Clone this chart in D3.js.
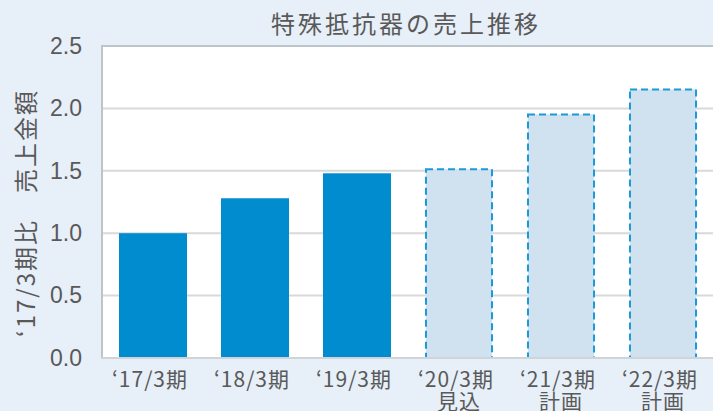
<!DOCTYPE html>
<html>
<head>
<meta charset="utf-8">
<title>特殊抵抗器の売上推移</title>
<script src="https://d3js.org/d3.v7.min.js"></script>
<style>
  body { margin: 0; background: #e7eff8; }
  text { font-family: "Noto Sans CJK JP", "Liberation Sans", sans-serif; fill: #595959; }
</style>
</head>
<body>
<script>
// chart data
const periods = ["‘17/3期", "‘18/3期", "‘19/3期", "‘20/3期", "‘21/3期", "‘22/3期"];
const notes = ["", "", "", "見込", "計画", "計画"];
const ratios = [1.0, 1.28, 1.48, 1.52, 1.96, 2.16];
const isForecast = [false, false, false, true, true, true];
const yTicks = [0, 0.5, 1.0, 1.5, 2.0, 2.5];

const W = 713, H = 411;
const plotL = 102, plotT = 46, plotB = 358, plotR = 714;

const svg = d3.select("body").append("svg")
    .attr("width", W).attr("height", H);

svg.append("rect").attr("width", W).attr("height", H).attr("fill", "#e7eff8");

const x = d3.scaleBand()
    .domain(periods)
    .range([plotL, plotR])
    .paddingInner(1 / 3)
    .paddingOuter(1 / 6);

const y = d3.scaleLinear()
    .domain([0, 2.5])
    .range([plotB, plotT]);

// plot area
svg.append("rect")
    .attr("x", plotL).attr("y", plotT)
    .attr("width", plotR - plotL).attr("height", plotB - plotT)
    .attr("fill", "#fff");

// gridlines
svg.append("g").selectAll("line")
    .data(yTicks.filter(d => d > 0 && d < 2.5))
    .join("line")
    .attr("x1", plotL).attr("x2", plotR)
    .attr("y1", d => y(d)).attr("y2", d => y(d))
    .attr("stroke", "#d9d9d9").attr("stroke-width", 2);

// bars
svg.append("g").selectAll("rect")
    .data(periods)
    .join("rect")
    .attr("x", (d, i) => x(d) + (isForecast[i] ? 1 : 0))
    .attr("width", (d, i) => x.bandwidth() - (isForecast[i] ? 2 : 0))
    .attr("y", (d, i) => y(ratios[i]) + (isForecast[i] ? 1 : 0))
    .attr("height", (d, i) => plotB - y(ratios[i]) - (isForecast[i] ? 1 : 0))
    .attr("fill", (d, i) => isForecast[i] ? "#d0e2f0" : "#008ccf")
    .attr("stroke", (d, i) => isForecast[i] ? "#1a9ad6" : "none")
    .attr("stroke-width", 2)
    .attr("stroke-dasharray", "7,4");

// frame: top, left, bottom
svg.append("path")
    .attr("d", `M${plotR},${plotT}H${plotL}V${plotB}`)
    .attr("fill", "none").attr("stroke", "#bcc5cc").attr("stroke-width", 2);
svg.append("line")
    .attr("x1", plotL - 1).attr("x2", plotR)
    .attr("y1", plotB).attr("y2", plotB)
    .attr("stroke", "#d0d4d8").attr("stroke-width", 2);

// y axis
const yAxis = svg.append("g")
    .attr("transform", `translate(${plotL - 20},0)`)
    .call(d3.axisLeft(y).tickValues(yTicks).tickFormat(d3.format(".1f")).tickSize(0));
yAxis.select(".domain").remove();
yAxis.selectAll("text")
    .attr("x", 0)
    .style("font-family", "'Liberation Sans', sans-serif")
    .style("font-size", "23px")
    .attr("fill", "#595959");

// x axis
const xAxis = svg.append("g")
    .attr("transform", `translate(0,${plotB})`)
    .call(d3.axisBottom(x).tickSize(0).tickFormat(() => ""));
xAxis.select(".domain").remove();
xAxis.selectAll(".tick").each(function(d, i) {
    const t = d3.select(this).append("text")
        .attr("text-anchor", "middle")
        .style("font-size", "21px")
        .style("letter-spacing", "1px")
        .attr("fill", "#595959");
    t.append("tspan").attr("x", -3).attr("y", 29).text(d);
    if (notes[i]) t.append("tspan").attr("x", 0).attr("y", 51).text(notes[i]);
});

// title
svg.append("text")
    .attr("x", 406).attr("y", 33)
    .attr("text-anchor", "middle")
    .style("font-size", "24px")
    .style("letter-spacing", "3px")
    .text("特殊抵抗器の売上推移");

// y axis title
svg.append("text")
    .attr("transform", "translate(35,213) rotate(-90)")
    .attr("text-anchor", "middle")
    .style("font-size", "24px")
    .style("letter-spacing", "2px")
    .text("‘17/3期比　売上金額");
</script>
</body>
</html>
